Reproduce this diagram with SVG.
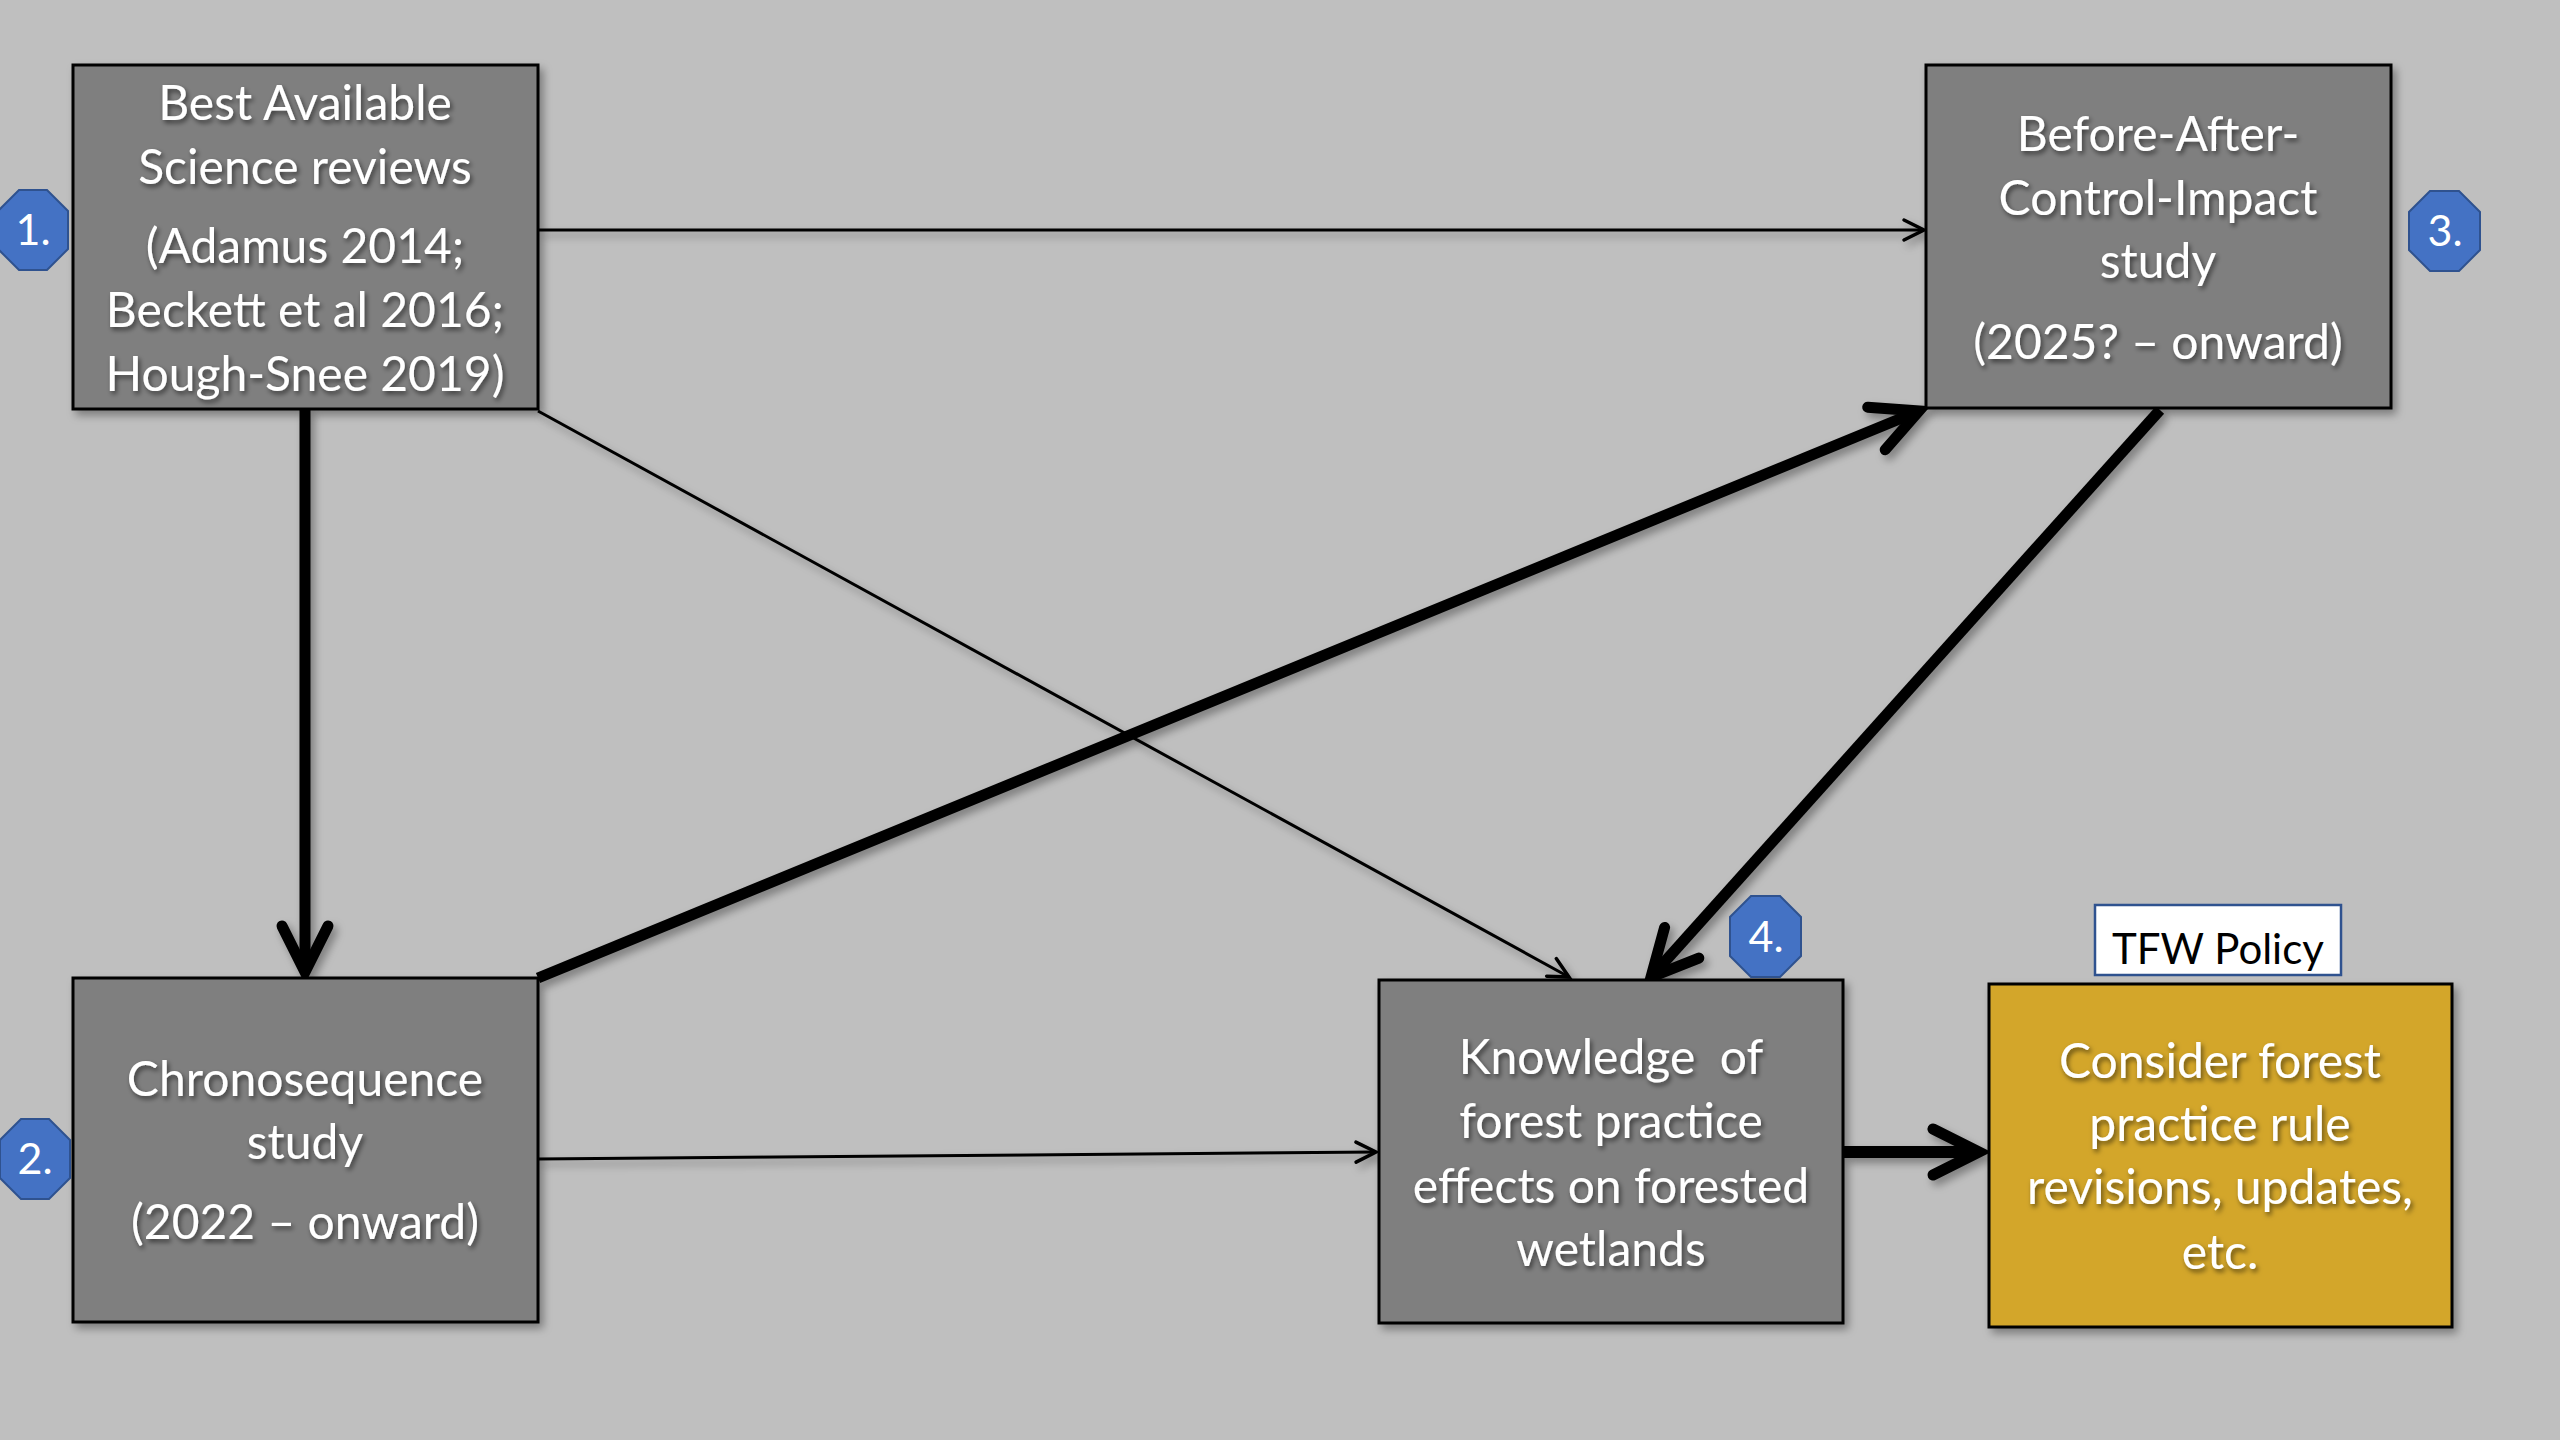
<svg xmlns="http://www.w3.org/2000/svg" width="2560" height="1440" viewBox="0 0 2560 1440">
<defs>
<style>
.box{fill:#7f7f7f;stroke:#000;stroke-width:3}
.gold{fill:#d3a62b;stroke:#000;stroke-width:3}
.t{font-family:Lato,"Liberation Sans",sans-serif;font-size:48px;fill:#fff;text-anchor:middle;white-space:pre}
.badge{fill:#4472c4;stroke:#2f528f;stroke-width:2}
.bt{font-family:Lato,"Liberation Sans",sans-serif;font-size:43px;fill:#fff;text-anchor:middle}
.thin{stroke:#000;stroke-width:3;fill:none}
.thick{stroke:#000;stroke-width:11;fill:none}
</style>
<filter id="sh" x="-10%" y="-10%" width="130%" height="130%">
<feDropShadow dx="4" dy="5" stdDeviation="4" flood-color="#000" flood-opacity="0.35"/>
</filter>
<filter id="tsh" x="-10%" y="-20%" width="130%" height="150%">
<feDropShadow dx="2" dy="3" stdDeviation="2.5" flood-color="#000" flood-opacity="0.55"/>
</filter>
<marker id="big" markerUnits="userSpaceOnUse" markerWidth="80" markerHeight="80" viewBox="-60 -40 80 80" refX="0" refY="0" orient="auto" overflow="visible">
<path d="M-46,-23 L0,0 L-46,23" fill="none" stroke="#000" stroke-width="11" stroke-linecap="round" stroke-linejoin="miter"/>
</marker>
<marker id="small" markerUnits="userSpaceOnUse" markerWidth="40" markerHeight="40" viewBox="-30 -20 40 40" refX="0" refY="0" orient="auto" overflow="visible">
<path d="M-20,-10 L0,0 L-20,10" fill="none" stroke="#000" stroke-width="3.5" stroke-linecap="round"/>
</marker>
</defs>
<rect width="2560" height="1440" fill="#bfbfbf"/>

<g id="connectors" filter="url(#sh)">
<line class="thin" x1="538" y1="230" x2="1924" y2="230" marker-end="url(#small)"/>
<line class="thin" x1="538" y1="411" x2="1569" y2="977" marker-end="url(#small)"/>
<line class="thin" x1="538" y1="1159" x2="1376" y2="1152" marker-end="url(#small)"/>
<line class="thick" x1="305" y1="409" x2="305" y2="972" marker-end="url(#big)"/>
<line class="thick" x1="538" y1="978" x2="1919" y2="411" marker-end="url(#big)"/>
<line class="thick" x1="2160" y1="410" x2="1651" y2="977" marker-end="url(#big)"/>
<line class="thick" style="stroke-width:12" x1="1844" y1="1152" x2="1979" y2="1152" marker-end="url(#big)"/>
</g>

<g id="node1">
<rect class="box" x="73" y="65" width="465" height="344" filter="url(#sh)"/>
<g filter="url(#tsh)">
<text class="t" x="305" y="120">Best Available</text>
<text class="t" x="305" y="184">Science reviews</text>
<text class="t" x="305" y="263">(Adamus 2014;</text>
<text class="t" x="305" y="327">Beckett et al 2016;</text>
<text class="t" x="305" y="391">Hough-Snee 2019)</text>
</g>
</g>

<g id="node3">
<rect class="box" x="1926" y="65" width="465" height="343" filter="url(#sh)"/>
<g filter="url(#tsh)">
<text class="t" x="2158" y="151">Before-After-</text>
<text class="t" x="2158" y="215">Control-Impact</text>
<text class="t" x="2158" y="278">study</text>
<text class="t" x="2158" y="359">(2025? – onward)</text>
</g>
</g>

<g id="node2">
<rect class="box" x="73" y="978" width="465" height="344" filter="url(#sh)"/>
<g filter="url(#tsh)">
<text class="t" x="305" y="1096">Chronosequence</text>
<text class="t" x="305" y="1159">study</text>
<text class="t" x="305" y="1239">(2022 – onward)</text>
</g>
</g>

<g id="node4">
<rect class="box" x="1379" y="980" width="464" height="343" filter="url(#sh)"/>
<g filter="url(#tsh)">
<text class="t" x="1611" y="1074">Knowledge  of</text>
<text class="t" x="1611" y="1138">forest practice</text>
<text class="t" x="1611" y="1203">effects on forested</text>
<text class="t" x="1611" y="1266">wetlands</text>
</g>
</g>

<g id="node5">
<rect class="gold" x="1989" y="984" width="463" height="343" filter="url(#sh)"/>
<g filter="url(#tsh)">
<text class="t" x="2220" y="1078">Consider forest</text>
<text class="t" x="2220" y="1141">practice rule</text>
<text class="t" x="2220" y="1204">revisions, updates,</text>
<text class="t" x="2220" y="1269">etc.</text>
</g>
</g>

<g id="tfw-policy">
<rect x="2095" y="905" width="246" height="70" fill="#fff" stroke="#2f528f" stroke-width="2.5"/>
<text x="2218" y="964" font-family="Lato,'Liberation Sans',sans-serif" font-size="42" fill="#000" text-anchor="middle">TFW Policy</text>
</g>

<g id="badge1">
<polygon class="badge" points="19,190 47,190 68,211 68,249 47,270 19,270 -2,249 -2,211"/>
<text class="bt" x="33" y="245">1.</text>
</g>
<g id="badge2">
<polygon class="badge" points="21,1119 49,1119 70,1140 70,1178 49,1199 21,1199 0,1178 0,1140"/>
<text class="bt" x="35" y="1174">2.</text>
</g>
<g id="badge3">
<polygon class="badge" points="2430,191 2459,191 2480,212 2480,250 2459,271 2430,271 2409,250 2409,212"/>
<text class="bt" x="2445" y="246">3.</text>
</g>
<g id="badge4">
<polygon class="badge" points="1751,896 1780,896 1801,917 1801,956 1780,977 1751,977 1730,956 1730,917"/>
<text class="bt" x="1766" y="952">4.</text>
</g>
</svg>
